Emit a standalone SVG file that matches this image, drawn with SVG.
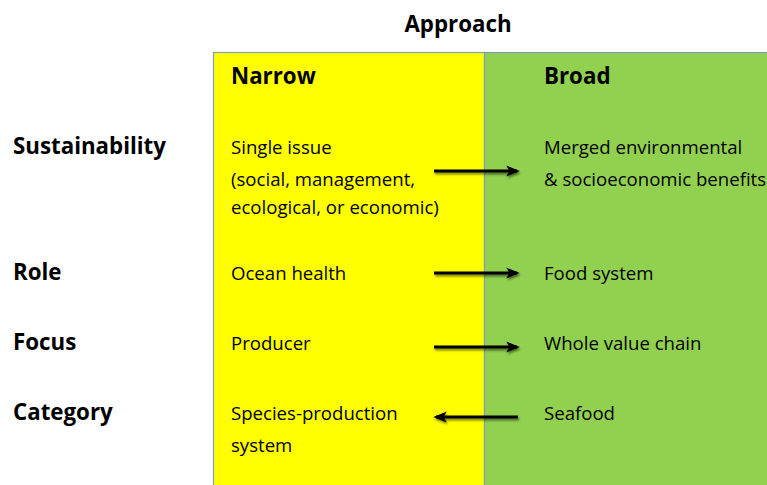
<svg xmlns="http://www.w3.org/2000/svg" width="767" height="485" viewBox="0 0 767 485">
<defs>
<style>
text{font-family:"Open Sans","Liberation Sans",Arial,sans-serif;fill:#000}
.h{font-size:22.3px;font-weight:bold}
.t{font-size:18.6px}
.arr{stroke:#000;stroke-width:3;fill:none;marker-end:url(#ah)}
</style>
<marker id="ah" viewBox="0 0 10 10" refX="8" refY="5" markerWidth="4.5" markerHeight="4.5" orient="auto" markerUnits="strokeWidth">
<path d="M0,1 L10,5 L0,9 L2.5,5 z" fill="#000"/>
</marker>
<filter id="sh" x="-20%" y="-100%" width="140%" height="300%">
<feGaussianBlur in="SourceAlpha" stdDeviation="1.2"/>
<feOffset dx="1" dy="1.5" result="b"/>
<feComponentTransfer><feFuncA type="linear" slope="0.5"/></feComponentTransfer>
<feMerge><feMergeNode/><feMergeNode in="SourceGraphic"/></feMerge>
</filter>
</defs>
<rect width="767" height="485" fill="#fff"/>
<g id="narrow">
<rect x="213.5" y="52.5" width="271" height="440" fill="#ffff00" stroke="#7f9ac6" stroke-width="1.2"/>
<text class="h" x="231" y="84">Narrow</text>
</g>
<g id="broad">
<rect x="484.5" y="52.5" width="290" height="440" fill="#92d050" stroke="#7f9ac6" stroke-width="1.2"/>
<text class="h" x="544" y="84">Broad</text>
</g>
<g id="title"><text class="h" x="458" y="32" text-anchor="middle">Approach</text></g>
<g id="labels">
<text class="h" x="13" y="154">Sustainability</text>
<text class="h" x="13" y="280">Role</text>
<text class="h" x="13" y="350">Focus</text>
<text class="h" x="13" y="420">Category</text>
</g>
<g id="row-sustainability">
<text class="t" x="231" y="154">Single issue</text>
<text class="t" x="231" y="186">(social, management,</text>
<text class="t" x="231" y="214">ecological, or economic)</text>
<text class="t" x="544" y="154">Merged environmental</text>
<text class="t" x="544" y="186">&amp; socioeconomic benefits</text>
</g>
<g id="row-role">
<text class="t" x="231" y="280">Ocean health</text>
<text class="t" x="544" y="280">Food system</text>
</g>
<g id="row-focus">
<text class="t" x="231" y="350">Producer</text>
<text class="t" x="544" y="350">Whole value chain</text>
</g>
<g id="row-category">
<text class="t" x="231" y="420">Species-production</text>
<text class="t" x="231" y="452">system</text>
<text class="t" x="544" y="420">Seafood</text>
</g>
<g id="connectors" filter="url(#sh)">
<line class="arr" x1="434" y1="171" x2="517" y2="171"/>
<line class="arr" x1="434" y1="273" x2="517" y2="273"/>
<line class="arr" x1="434" y1="347" x2="517" y2="347"/>
<line class="arr" x1="518" y1="417" x2="436" y2="417"/>
</g>
</svg>
